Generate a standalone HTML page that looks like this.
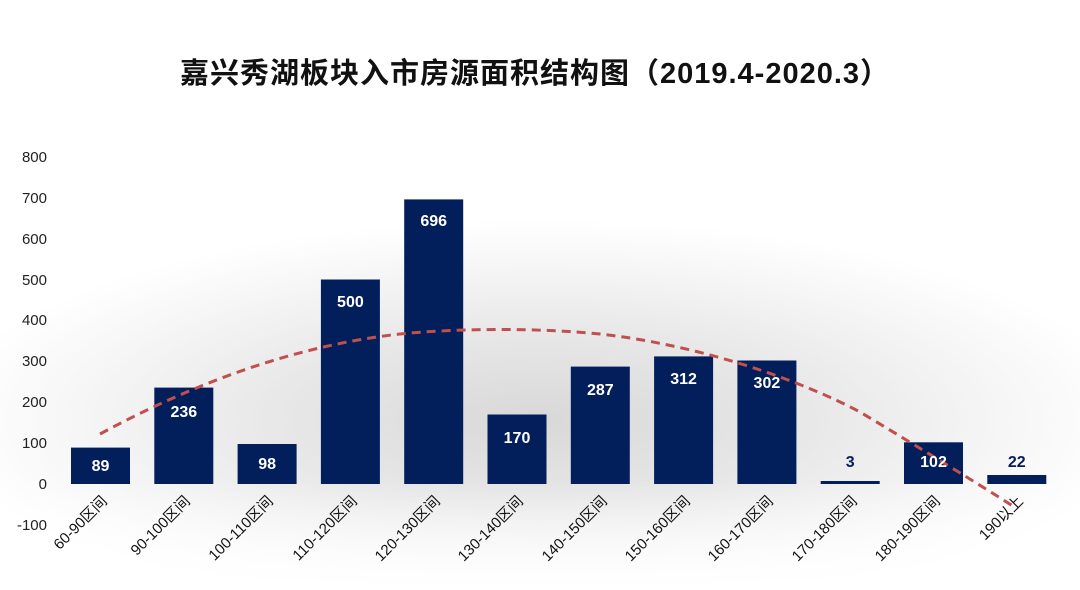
<!DOCTYPE html>
<html><head><meta charset="utf-8"><style>
body{margin:0;width:1080px;height:590px;overflow:hidden;font-family:"Liberation Sans","Noto Sans CJK SC",sans-serif;
background:radial-gradient(ellipse 600px 200px at 540px 420px,#d8d8d8 0%,#e8e8e8 45%,#f7f7f7 80%,#fff 100%),#fff;}
</style></head><body>
<svg width="1080" height="590" xmlns="http://www.w3.org/2000/svg" style="position:absolute;left:0;top:0">
<defs><linearGradient id="top" x1="0" y1="0" x2="0" y2="1"><stop offset="0" stop-color="#fff"/><stop offset="1" stop-color="#fff" stop-opacity="0"/></linearGradient>
<linearGradient id="bot" x1="0" y1="0" x2="0" y2="1"><stop offset="0" stop-color="#fff" stop-opacity="0"/><stop offset="1" stop-color="#fff"/></linearGradient></defs>
<rect x="0" y="0" width="1080" height="230" fill="url(#top)"/>
<rect x="0" y="480" width="1080" height="110" fill="url(#bot)"/>
<text x="535" y="83" text-anchor="middle" font-size="29" font-weight="bold" fill="#111" letter-spacing="1">嘉兴秀湖板块入市房源面积结构图（2019.4-2020.3）</text>
<g font-size="15" fill="#222" text-anchor="end">
<text x="47" y="162">800</text><text x="47" y="203">700</text><text x="47" y="244">600</text><text x="47" y="285">500</text><text x="47" y="325">400</text><text x="47" y="366">300</text><text x="47" y="407">200</text><text x="47" y="448">100</text><text x="47" y="489">0</text><text x="47" y="530">-100</text>
</g>
<g fill="#021f5c">
<rect x="71" y="447.6" width="59" height="36.4"/>
<rect x="154.3" y="387.6" width="59" height="96.4"/>
<rect x="237.6" y="444" width="59" height="40"/>
<rect x="320.9" y="279.5" width="59" height="204.5"/>
<rect x="404.2" y="199.4" width="59" height="284.6"/>
<rect x="487.5" y="414.5" width="59" height="69.5"/>
<rect x="570.8" y="366.6" width="59" height="117.4"/>
<rect x="654.1" y="356.4" width="59" height="127.6"/>
<rect x="737.4" y="360.5" width="59" height="123.5"/>
<rect x="820.7" y="481" width="59" height="3"/>
<rect x="904" y="442.3" width="59" height="41.7"/>
<rect x="987.3" y="475" width="59" height="9"/>
</g>
<path d="M100,434 C200,380 300,345 400,334 C460,328 540,328 600,334 C700,345 800,380 860,412 C920,448 980,485 1016,508" fill="none" stroke="#c0504d" stroke-width="3" stroke-dasharray="9,6"/>
<g font-size="16" font-weight="bold" fill="#fff" text-anchor="middle">
<text x="100.5" y="471">89</text><text x="183.8" y="417">236</text><text x="267.1" y="469">98</text><text x="350.4" y="307">500</text><text x="433.7" y="226">696</text><text x="517" y="443">170</text><text x="600.3" y="395">287</text><text x="683.6" y="384">312</text><text x="766.9" y="388">302</text><text x="850.2" y="467" fill="#021f5c">3</text><text x="933.5" y="467">102</text><text x="1016.8" y="467" fill="#021f5c">22</text>
</g>
<g font-size="15" fill="#111" text-anchor="end">
<text transform="translate(108,502) rotate(-45)">60-90区间</text>
<text transform="translate(191,502) rotate(-45)">90-100区间</text>
<text transform="translate(274,502) rotate(-45)">100-110区间</text>
<text transform="translate(358,502) rotate(-45)">110-120区间</text>
<text transform="translate(441,502) rotate(-45)">120-130区间</text>
<text transform="translate(524,502) rotate(-45)">130-140区间</text>
<text transform="translate(608,502) rotate(-45)">140-150区间</text>
<text transform="translate(691,502) rotate(-45)">150-160区间</text>
<text transform="translate(774,502) rotate(-45)">160-170区间</text>
<text transform="translate(858,502) rotate(-45)">170-180区间</text>
<text transform="translate(941,502) rotate(-45)">180-190区间</text>
<text transform="translate(1024,502) rotate(-45)">190以上</text>
</g>
</svg>
</body></html>
